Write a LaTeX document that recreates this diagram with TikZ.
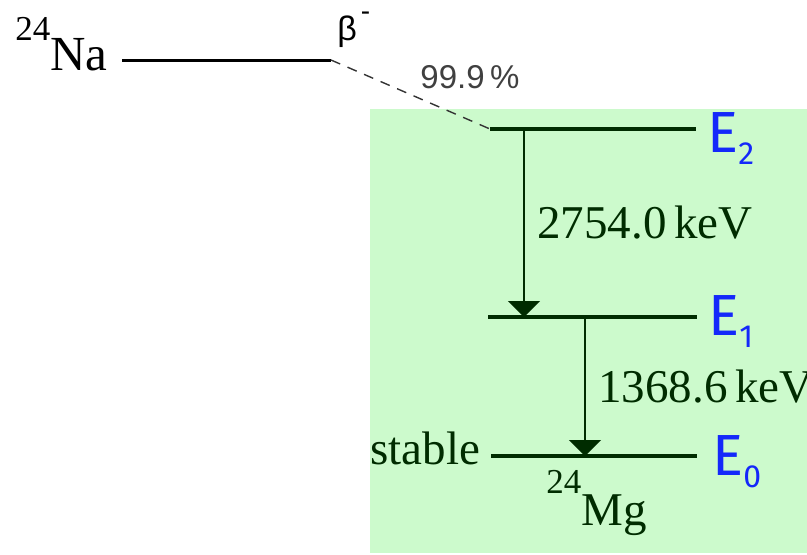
\documentclass[tikz,border=0pt]{standalone}
\usepackage{fontspec}
\setmainfont{Liberation Serif}
\newfontfamily\pctfont{Liberation Sans}
\newfontfamily\levelfont{Fira Sans}
\usetikzlibrary{arrows.meta}
\definecolor{decaybg}{RGB}{204,250,204}
\definecolor{decaygreen}{RGB}{0,44,0}
\definecolor{levelblue}{RGB}{20,40,250}

\begin{document}
\begin{tikzpicture}[x=0.5pt,y=-0.5pt,
    level/.style={line width=1.7pt,decaygreen},
    gamma/.style={line width=1pt,decaygreen,-{Triangle[width=16pt,length=8pt]}},
    energy/.style={anchor=base west,inner sep=0pt,text=decaygreen,font=\fontsize{23.5}{24}\selectfont},
    elabel/.style={anchor=base west,inner sep=0pt,text=levelblue,font=\levelfont\fontsize{29}{30}\selectfont}]
    \useasboundingbox (0,0) rectangle (807,554);
    % daughter side, shaded
    \fill[decaybg] (370,109) rectangle (807,553);
    % parent level
    \coordinate (na-l) at (122,60);
    \coordinate (na-r) at (331,60);
    \draw[line width=1.5pt] (na-l) -- (na-r);
    \node[anchor=base west,inner sep=0pt] (na) at (15,70)
        {\raisebox{15pt}{\fontsize{17.5}{18}\selectfont 24}{\fontsize{24.5}{25}\selectfont Na}};
    \node[anchor=base west,inner sep=0pt,font=\pctfont\fontsize{17}{18}\selectfont] (beta) at (337,40)
        {β\hspace{2pt}\raisebox{10pt}{\fontsize{14}{14}\selectfont -}};
    % levels of the daughter
    \foreach \lv/\xl/\xr/\y in {2/490/696/129, 1/488/697/317, 0/491/697/456} {
        \coordinate (e\lv-l) at (\xl,\y);
        \coordinate (e\lv-r) at (\xr,\y);
        \draw[level] (e\lv-l) -- (e\lv-r);
    }
    \foreach \lv/\x/\y in {2/707/152, 1/708/335, 0/712/475}
        \node[elabel] (lab\lv) at (\x,\y) {E\raisebox{-6pt}{\fontsize{16}{16}\selectfont\lv}};
    % beta branch
    \draw[line width=0.7pt,black!80,dash pattern=on 5pt off 4pt] (na-r) -- (e2-l);
    \node[anchor=base west,inner sep=0pt,text=black!75,font=\pctfont\fontsize{16.5}{17}\selectfont] (branch) at (420,88) {99.9\,\%};
    % gamma transitions
    \coordinate (g1a) at (524,129);
    \coordinate (g1b) at (524,317);
    \coordinate (g2a) at (585,317);
    \coordinate (g2b) at (585,456);
    \draw[gamma] (g1a) -- (g1b);
    \draw[gamma] (g2a) -- (g2b);
    \node[energy] (g1lab) at (537,238) {2754.0\,keV};
    \node[energy] (g2lab) at (598,402) {1368.6\,keV};
    \node[energy] (stable) at (370,464) {stable};
    \node[energy] (mg) at (546,525)
        {\raisebox{16pt}{\fontsize{17.5}{18}\selectfont 24}Mg};
\end{tikzpicture}
\end{document}
